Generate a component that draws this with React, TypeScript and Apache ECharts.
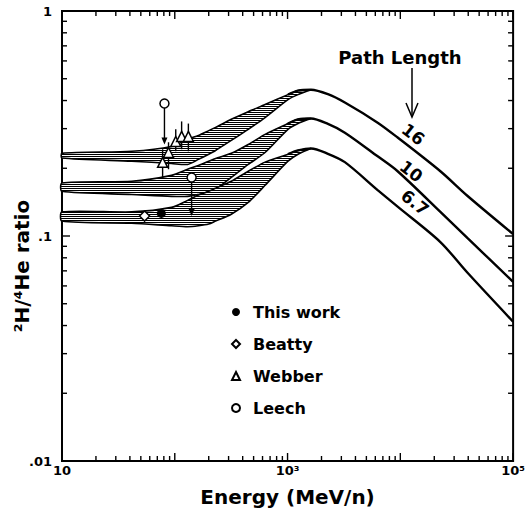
import React, { useEffect, useRef } from "react";
import * as echarts from "echarts";

// ---- Data ----
// Energy grid (MeV/n) of the solar-modulated bands (up to the peak)
const bandEnergy = [10, 41.5, 93.5, 130, 162, 200, 230, 317, 448, 632, 1009, 1239, 1614];
const band16Upper = [0.233, 0.238, 0.25, 0.269, 0.28, 0.294, 0.304, 0.33, 0.357, 0.384, 0.425, 0.443, 0.447];
const band16Lower = [0.222, 0.215, 0.21, 0.208, 0.219, 0.231, 0.24, 0.266, 0.298, 0.336, 0.404, 0.425, 0.447];
const band10Upper = [0.172, 0.175, 0.186, 0.198, 0.206, 0.215, 0.221, 0.233, 0.255, 0.283, 0.316, 0.33, 0.333];
const band10Lower = [0.158, 0.153, 0.15, 0.15, 0.153, 0.157, 0.161, 0.182, 0.208, 0.235, 0.298, 0.316, 0.333];
const band67Upper = [0.128, 0.128, 0.134, 0.144, 0.152, 0.158, 0.163, 0.175, 0.194, 0.213, 0.231, 0.24, 0.245];
const band67Lower = [0.1165, 0.114, 0.111, 0.11, 0.111, 0.113, 0.1165, 0.125, 0.141, 0.168, 0.215, 0.231, 0.245];

// Outer curves around and above the peak
const highEnergy = [1009, 1239, 1614, 2280, 3221, 6295, 9462, 22650, 39260, 100000];
const line16 = [0.425, 0.443, 0.447, 0.427, 0.392, 0.319, 0.274, 0.194, 0.151, 0.102];
const line10 = [0.316, 0.33, 0.333, 0.315, 0.288, 0.226, 0.194, 0.128, 0.098, 0.0626];
const line67 = [0.231, 0.24, 0.245, 0.232, 0.213, 0.16, 0.135, 0.094, 0.0688, 0.0416];

// Measurements
const thisWorkE = [76];
const thisWorkR = [0.126];
const beattyE = [54];
const beattyR = [0.1226];
const webberE = [78, 88, 102, 115, 132];
const webberR = [0.2125, 0.235, 0.263, 0.277, 0.277];
const webberLow = [0.182, 0.198, 0.238, 0.243, 0.238];
const webberHigh = [0.243, 0.261, 0.298, 0.323, 0.316];
const leechE = [81, 141];
const leechR = [0.388, 0.182];
const leechLimit = [0.255, 0.1226];

// Path-length labels
const pathLabels = ["16", "10", "6.7"];
const pathLabelE = [13000, 12500, 13500];
const pathLabelR = [0.283, 0.194, 0.141];

const FONT = "DejaVu Sans";

export default function App() {
  const ref = useRef<HTMLDivElement>(null);

  useEffect(() => {
    if (!ref.current) return;
    const chart = echarts.init(ref.current, null, { renderer: "svg" });

    // hatch pattern
    const cv = document.createElement("canvas");
    cv.width = 4;
    cv.height = 2;
    const ctx = cv.getContext("2d")!;
    ctx.fillStyle = "#ffffff";
    ctx.fillRect(0, 0, 4, 2);
    ctx.fillStyle = "#000000";
    ctx.fillRect(0, 0, 4, 1);
    const hatch: any = { image: cv, repeat: "repeat", imageWidth: 4, imageHeight: 2 };

    const bands = [
      [band16Upper, band16Lower],
      [band10Upper, band10Lower],
      [band67Upper, band67Lower],
    ];

    // ticks
    const tickData: number[][] = [];
    for (let d = 1; d <= 5; d++) {
      const base = Math.pow(10, d);
      tickData.push([base, 0.1, 0, 1]);
      if (d < 5) for (let k = 2; k <= 9; k++) tickData.push([base * k, 0.1, 0, 0]);
    }
    for (let d = -2; d <= 0; d++) {
      const base = Math.pow(10, d);
      tickData.push([100, base, 1, 1]);
      if (d < 0) for (let k = 2; k <= 9; k++) tickData.push([100, base * k, 1, 0]);
    }

    const supMap: Record<number, string> = { 1: "10", 3: "10\u00b3", 5: "10\u2075" };
    const yMap: Record<number, string> = { 0: "1", [-1]: ".1", [-2]: ".01" };

    const option: any = {
      animation: false,
      grid: {
        left: 62,
        right: 13,
        top: 11,
        bottom: 49,
        show: true,
        borderColor: "#000",
        borderWidth: 2,
        backgroundColor: "transparent",
      },
      xAxis: {
        type: "log",
        logBase: 10,
        min: 10,
        max: 100000,
        name: "Energy (MeV/n)",
        nameLocation: "middle",
        nameGap: 26,
        nameTextStyle: { fontFamily: FONT, fontSize: 20, fontWeight: "bold", color: "#000" },
        axisLine: { show: false },
        axisTick: { show: false },
        splitLine: { show: false },
        axisLabel: {
          margin: 3,
          fontFamily: FONT,
          fontSize: 13,
          fontWeight: "bold",
          color: "#000",
          showMinLabel: true,
          showMaxLabel: true,
          formatter: (v: number) => supMap[Math.round(Math.log10(v))] ?? "",
        },
      },
      yAxis: {
        type: "log",
        logBase: 10,
        min: 0.01,
        max: 1,
        axisLine: { show: false },
        axisTick: { show: false },
        splitLine: { show: false },
        axisLabel: {
          margin: 10,
          fontFamily: FONT,
          fontSize: 13,
          fontWeight: "bold",
          color: "#000",
          showMinLabel: true,
          showMaxLabel: true,
          formatter: (v: number) => yMap[Math.round(Math.log10(v))] ?? "",
        },
      },
      legend: {
        orient: "vertical",
        left: 226,
        top: 298,
        itemWidth: 8,
        itemHeight: 8,
        itemGap: 14,
        symbolKeepAspect: true,
        textStyle: {
          fontFamily: FONT,
          fontSize: 16,
          fontWeight: "bold",
          color: "#000",
          lineHeight: 18,
          padding: [0, 0, 0, 8],
        },
        data: ["This work", "Beatty", "Webber", "Leech"],
      },
      graphic: [
        {
          type: "text",
          x: 22,
          y: 266,
          rotation: Math.PI / 2,
          style: {
            text: "\u00b2H/\u2074He ratio",
            fontFamily: FONT,
            fontSize: 20,
            fontWeight: "bold",
            fill: "#000",
            textAlign: "center",
            textVerticalAlign: "middle",
          },
        },
        {
          type: "text",
          x: 400,
          y: 57,
          style: {
            text: "Path Length",
            fontFamily: FONT,
            fontSize: 18,
            fontWeight: "bold",
            fill: "#000",
            textAlign: "center",
            textVerticalAlign: "middle",
          },
        },
        {
          type: "line",
          shape: { x1: 412, y1: 68, x2: 412, y2: 116 },
          style: { stroke: "#000", lineWidth: 1.5 },
        },
        {
          type: "polyline",
          shape: { points: [[406, 103], [412, 117], [418, 103]] },
          style: { stroke: "#000", lineWidth: 1.5, fill: null },
        },
      ],
      series: [
        {
          name: "bands",
          type: "custom",
          silent: true,
          data: [[0], [1], [2]],
          encode: { x: -1, y: -1 },
          renderItem: (params: any, api: any) => {
            const idx = params.dataIndex;
            const [up, lo] = bands[idx];
            const pts: number[][] = [];
            for (let i = 0; i < bandEnergy.length; i++) pts.push(api.coord([bandEnergy[i], up[i]]));
            for (let i = bandEnergy.length - 1; i >= 0; i--) pts.push(api.coord([bandEnergy[i], lo[i]]));
            return {
              type: "polygon",
              shape: { points: pts, smooth: 0.25 },
              style: { fill: hatch, stroke: "#000", lineWidth: 1.6 },
            };
          },
          z: 2,
        },
        ...[line16, line10, line67].map((arr, i) => ({
          name: "curve" + i,
          type: "line",
          data: highEnergy.map((e, j) => [e, arr[j]]),
          symbol: "none",
          smooth: 0.3,
          lineStyle: { color: "#000", width: 2.4 },
          z: 3,
        })),
        {
          name: "ticks",
          type: "custom",
          silent: true,
          data: tickData,
          renderItem: (params: any, api: any) => {
            const v = api.value(0);
            const yv = api.value(1);
            const kind = api.value(2);
            const len = api.value(3) ? 8 : 5;
            const st = { stroke: "#000", lineWidth: 1.4 };
            if (kind === 0) {
              const pb = api.coord([v, 0.01]);
              const pt = api.coord([v, 1]);
              return {
                type: "group",
                children: [
                  { type: "line", shape: { x1: pb[0], y1: pb[1], x2: pb[0], y2: pb[1] - len }, style: st },
                  { type: "line", shape: { x1: pt[0], y1: pt[1], x2: pt[0], y2: pt[1] + len }, style: st },
                ],
              };
            }
            const pl = api.coord([10, yv]);
            const pr = api.coord([100000, yv]);
            return {
              type: "group",
              children: [
                { type: "line", shape: { x1: pl[0], y1: pl[1], x2: pl[0] + len, y2: pl[1] }, style: st },
                { type: "line", shape: { x1: pr[0], y1: pr[1], x2: pr[0] - len, y2: pr[1] }, style: st },
              ],
            };
          },
          z: 5,
        },
        {
          name: "webberBars",
          type: "custom",
          silent: true,
          data: webberE.map((e, i) => [e, webberLow[i], webberHigh[i]]),
          renderItem: (params: any, api: any) => {
            const a = api.coord([api.value(0), api.value(1)]);
            const b = api.coord([api.value(0), api.value(2)]);
            return {
              type: "line",
              shape: { x1: a[0], y1: a[1], x2: b[0], y2: b[1] },
              style: { stroke: "#000", lineWidth: 1.4 },
            };
          },
          z: 6,
        },
        {
          name: "leechArrows",
          type: "custom",
          silent: true,
          data: leechE.map((e, i) => [e, leechR[i], leechLimit[i]]),
          renderItem: (params: any, api: any) => {
            const a = api.coord([api.value(0), api.value(1)]);
            const b = api.coord([api.value(0), api.value(2)]);
            return {
              type: "group",
              children: [
                { type: "line", shape: { x1: a[0], y1: a[1], x2: b[0], y2: b[1] - 4 }, style: { stroke: "#000", lineWidth: 1.4 } },
                {
                  type: "polygon",
                  shape: { points: [[b[0] - 3, b[1] - 7], [b[0] + 3, b[1] - 7], [b[0], b[1]]] },
                  style: { fill: "#000" },
                },
              ],
            };
          },
          z: 6,
        },
        {
          name: "pathLabels",
          type: "scatter",
          silent: true,
          symbol: "circle",
          symbolSize: 2,
          itemStyle: { color: "rgba(0,0,0,0)", opacity: 1 },
          data: pathLabelE.map((e, i) => ({ value: [e, pathLabelR[i]], name: pathLabels[i] })),
          label: {
            show: true,
            position: "inside",
            formatter: (p: any) => p.name,
            rotate: -38,
            fontFamily: FONT,
            fontSize: 17,
            fontWeight: "bold",
            color: "#000",
            textBorderWidth: 0,
          },
          z: 7,
        },
        {
          name: "This work",
          type: "scatter",
          symbol: "circle",
          symbolSize: 9,
          data: thisWorkE.map((e, i) => [e, thisWorkR[i]]),
          itemStyle: { color: "#000", opacity: 1 },
          z: 8,
        },
        {
          name: "Beatty",
          type: "scatter",
          symbol: "diamond",
          symbolSize: 10,
          data: beattyE.map((e, i) => [e, beattyR[i]]),
          itemStyle: { color: "#fff", borderColor: "#000", borderWidth: 1.5, opacity: 1 },
          z: 8,
        },
        {
          name: "Webber",
          type: "scatter",
          symbol: "triangle",
          symbolSize: 10,
          data: webberE.map((e, i) => [e, webberR[i]]),
          itemStyle: { color: "#fff", borderColor: "#000", borderWidth: 1.5, opacity: 1 },
          z: 8,
        },
        {
          name: "Leech",
          type: "scatter",
          symbol: "circle",
          symbolSize: 9,
          data: leechE.map((e, i) => [e, leechR[i]]),
          itemStyle: { color: "#fff", borderColor: "#000", borderWidth: 1.5, opacity: 1 },
          z: 8,
        },
      ],
    };

    chart.setOption(option);
    return () => chart.dispose();
  }, []);

  return (
    <div
      ref={ref}
      style={{ position: "fixed", left: 0, top: 0, width: 528, height: 512, background: "#fff" }}
    />
  );
}
